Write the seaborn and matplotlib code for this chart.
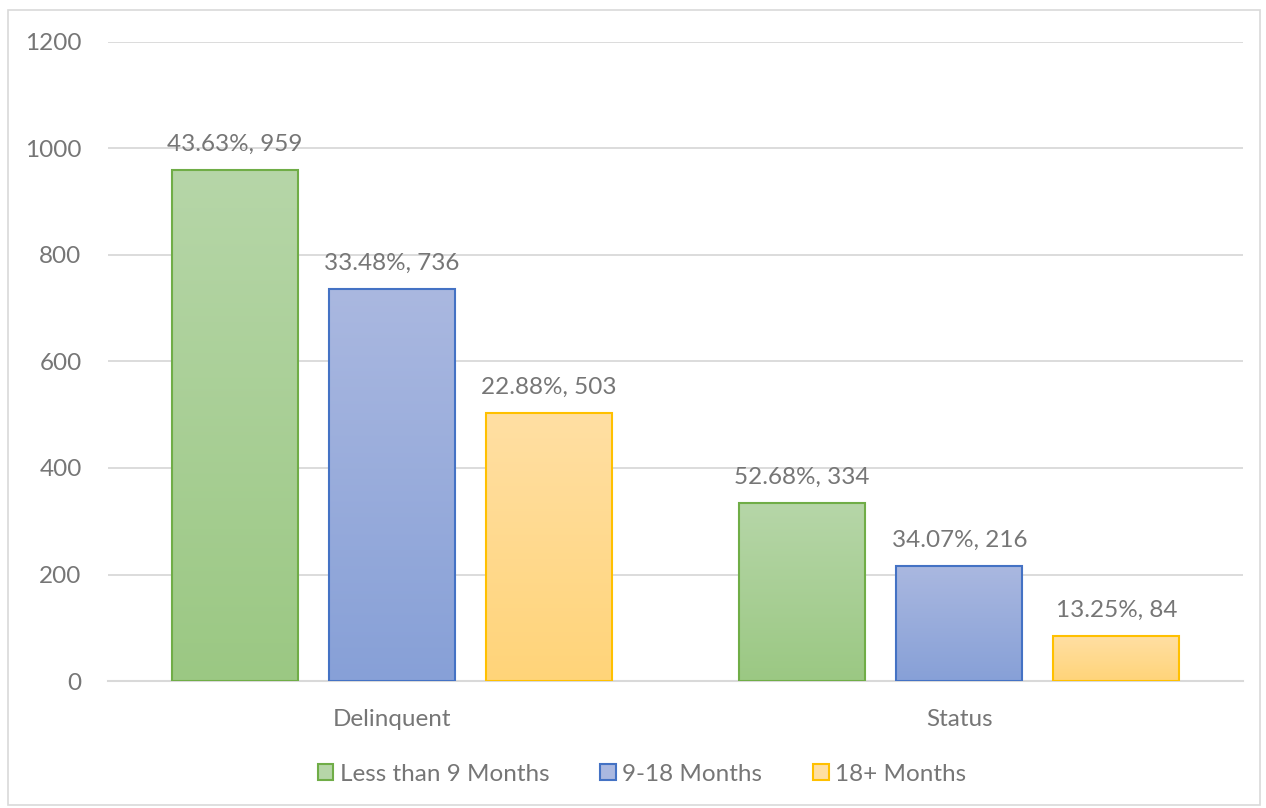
import numpy as np
import pandas as pd
import seaborn as sns
import matplotlib.pyplot as plt
from matplotlib.patches import Rectangle, Patch
from matplotlib.colors import LinearSegmentedColormap

# data
groups = ["Delinquent", "Status"]
durations = ["Less than 9 Months", "9-18 Months", "18+ Months"]
counts_delinquent = [959, 736, 503]
counts_status = [334, 216, 84]
pct_delinquent = ["43.63%", "33.48%", "22.88%"]
pct_status = ["52.68%", "34.07%", "13.25%"]

# gradient colours (top, bottom) and border colour for each series
top_colors = ["#b6d6a8", "#aab8e0", "#ffdfa3"]
bottom_colors = ["#9bc883", "#87a0d7", "#ffd479"]
edge_colors = ["#70ad47", "#4472c4", "#ffc000"]
text_gray = "#767676"
grid_gray = "#d9d9d9"
fs = 17.5

df = pd.DataFrame({
    "group": [g for g in groups for _ in durations],
    "duration": durations * 2,
    "count": counts_delinquent + counts_status,
    "label": [f"{p}, {c}" for p, c in zip(pct_delinquent, counts_delinquent)]
             + [f"{p}, {c}" for p, c in zip(pct_status, counts_status)],
})

sns.set_style("white")
plt.rcParams["font.family"] = ["Lato", "DejaVu Sans"]

fig = plt.figure(figsize=(12.66, 8.08), dpi=100)
ax = fig.add_axes([108 / 1266, 1 - 681 / 808, (1243 - 108) / 1266, (681 - 42) / 808])

sns.barplot(data=df, x="group", y="count", hue="duration", hue_order=durations,
            palette=bottom_colors, width=0.83, gap=0.2, ax=ax, legend=False,
            linewidth=1.5, zorder=3)

# gradient fill for every bar, light at the top and darker at the bottom
grad = np.linspace(0, 1, 256).reshape(-1, 1)
for i, cont in enumerate(ax.containers):
    cmap = LinearSegmentedColormap.from_list(f"g{i}", [bottom_colors[i], top_colors[i]])
    for bar in cont:
        x0, w, h = bar.get_x(), bar.get_width(), bar.get_height()
        ax.imshow(grad, cmap=cmap, aspect="auto", origin="lower",
                  extent=[x0, x0 + w, 0, h], zorder=3)
        bar.set_facecolor("none")
        bar.set_edgecolor(edge_colors[i])
        bar.set_zorder(4)

for i, cont in enumerate(ax.containers):
    labels = df[df["duration"] == durations[i]]["label"].tolist()
    ax.bar_label(cont, labels=labels, padding=11, fontsize=fs, color=text_gray)

ax.set_xlim(-0.5, 1.5)
ax.set_ylim(0, 1200)
ax.set_yticks(range(0, 1201, 200))
ax.yaxis.grid(True, color=grid_gray, linewidth=1.3, zorder=0)
ax.set_axisbelow(True)
for s in ["top", "right", "left"]:
    ax.spines[s].set_visible(False)
ax.spines["bottom"].set_color(grid_gray)
ax.spines["bottom"].set_linewidth(1.5)
ax.set_xlabel("")
ax.set_ylabel("")
ax.tick_params(axis="x", length=0, pad=20, labelsize=fs, labelcolor=text_gray)
ax.tick_params(axis="y", length=0, pad=19, labelsize=fs, labelcolor=text_gray)

handles = [Patch(facecolor=top_colors[i], edgecolor=edge_colors[i], linewidth=1.5)
           for i in range(3)]
fig.legend(handles, durations, loc="center", bbox_to_anchor=(0.507, 0.042), ncol=3,
           frameon=False, fontsize=fs, labelcolor=text_gray, handlelength=0.65,
           handleheight=0.65, handletextpad=0.25, columnspacing=2.1)

# light border round the whole chart
fig.patches.append(Rectangle((8 / 1266, 3 / 808), 1252 / 1266, 795 / 808,
                             transform=fig.transFigure, fill=False,
                             edgecolor=grid_gray, linewidth=1.2))

fig.savefig("out.png", dpi=100)
